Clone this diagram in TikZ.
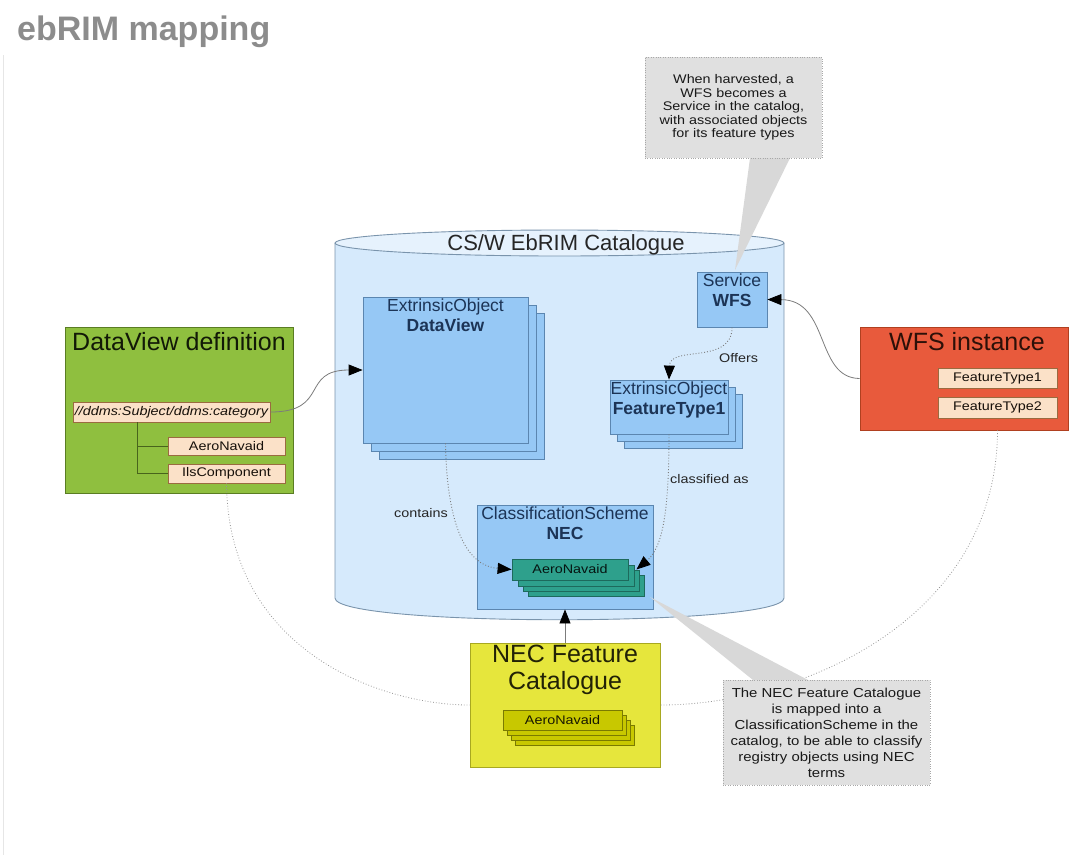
\documentclass[tikz,border=0pt]{standalone}
\usepackage{fontspec}
\setmainfont{Liberation Sans}
\newfontfamily\narrowfont[FakeStretch=1.15]{Liberation Sans}
\usetikzlibrary{arrows.meta}

\definecolor{titlegray}{HTML}{8C8C8C}
\definecolor{pagegray}{HTML}{E6E6E6}
\definecolor{catfill}{HTML}{D6EAFC}
\definecolor{catline}{HTML}{7A94AC}
\definecolor{boxfill}{HTML}{96C8F5}
\definecolor{boxline}{HTML}{5B86B0}
\definecolor{boxtext}{HTML}{1C3456}
\definecolor{tealfill}{HTML}{2EA08C}
\definecolor{tealline}{HTML}{1D6A5C}
\definecolor{greenfill}{HTML}{8FBF3F}
\definecolor{greenline}{HTML}{5A7D23}
\definecolor{redfill}{HTML}{E85A3C}
\definecolor{redline}{HTML}{B04020}
\definecolor{yellowfill}{HTML}{E6E63C}
\definecolor{yellowline}{HTML}{A8A820}
\definecolor{olivefill}{HTML}{C8C800}
\definecolor{oliveline}{HTML}{7A7A00}
\definecolor{peachfill}{HTML}{FBE1C8}
\definecolor{peachline}{HTML}{9A6B40}
\definecolor{notefill}{HTML}{E0E0E0}
\definecolor{noteline}{HTML}{A8A8A8}
\definecolor{wire}{HTML}{7C7C7C}

\begin{document}
\begin{tikzpicture}[x=1pt,y=-1pt]

    \tikzset{
      bluebox/.style={draw=boxline, fill=boxfill, line width=0.8pt, inner sep=0pt},
      bluetext/.style={anchor=north, align=center, inner sep=2.5pt, text=boxtext,
        font=\fontsize{17.5}{20}\selectfont},
      tealbox/.style={draw=tealline, fill=tealfill, line width=0.8pt, inner sep=0pt,
        minimum width=116pt, minimum height=21pt, text=black!80!tealline,
        font=\narrowfont\fontsize{12.5}{14}\selectfont},
      olivebox/.style={draw=oliveline, fill=olivefill, line width=0.8pt, inner sep=0pt,
        minimum width=119pt, minimum height=20pt, text=black!80!oliveline,
        font=\narrowfont\fontsize{12.5}{14}\selectfont},
      peachbox/.style={draw=peachline, fill=peachfill, line width=0.8pt, inner sep=0pt,
        text=black!85!peachline, font=\narrowfont\fontsize{12.5}{14}\selectfont},
      bigtitle/.style={anchor=center, inner sep=0pt, font=\fontsize{25}{27}\selectfont},
      note/.style={draw=noteline, dotted, fill=notefill, align=center, inner sep=0pt,
        text=black!90, font=\narrowfont\fontsize{12.5}{13.5}\selectfont},
      notetail/.style={fill=notefill!92!gray},
      conn/.style={draw=wire, line width=0.8pt, -{Triangle[length=14pt,width=11pt,color=black]}},
      dotconn/.style={draw=wire, line width=0.9pt, dotted, -{Triangle[length=14pt,width=11pt,color=black]}},
      assoc/.style={draw=wire!80, line width=0.8pt, dotted},
      edgelabel/.style={inner sep=0pt, text=black!85, font=\narrowfont\fontsize{12.5}{14}\selectfont},
    }
    \useasboundingbox (0,0) rectangle (1070,855);
	\draw[pagegray, line width=1pt] (3,55)--(3,855);
	\node[anchor=base west, inner sep=0pt, text=titlegray, font=\fontsize{34}{40}\selectfont\bfseries] (title) at (17,40) {ebRIM mapping};

	\fill[catfill] (335,243)--(335,598) .. controls (335,627) and (784,627) .. (784,598)--(784,243)--cycle;
	\draw[catline, line width=0.9pt] (335,243)--(335,598) .. controls (335,627) and (784,627) .. (784,598)--(784,243);
	\draw[catline, line width=0.9pt, fill=catfill!60!white] (559.5,243) ellipse [x radius=224.5, y radius=13];
	\node[inner sep=0pt, text=black!85, font=\fontsize{22}{24}\selectfont] (cattitle) at (566,245) {CS/W EbRIM Catalogue};

	\draw[bluebox] (379,313) rectangle (544,459);
	\draw[bluebox] (371,305) rectangle (536,451);
	\node[bluebox, minimum width=165pt, minimum height=146pt] (dv) at (445.5,370) {};
	\node[bluetext] (dvtxt) at (dv.north) {ExtrinsicObject\\\textbf{DataView}};

	\node[bluebox, minimum width=70pt, minimum height=55pt] (svc) at (732,299.5) {};
	\node[bluetext] (svctxt) at (svc.north) {Service\\\textbf{WFS}};

	\draw[bluebox] (624,394) rectangle (742,448);
	\draw[bluebox] (617,387) rectangle (735,441);
	\node[bluebox, minimum width=118pt, minimum height=54pt] (ft) at (669,407) {};
	\node[bluetext] (fttxt) at (ft.north) {ExtrinsicObject\\\textbf{FeatureType1}};

	\node[bluebox, minimum width=176pt, minimum height=104pt] (cs) at (565,557) {};
	\node[bluetext] (cstxt) at (cs.north) {ClassificationScheme\\\textbf{NEC}};
	\draw[tealbox] (528,575) rectangle (644,596);
	\draw[tealbox] (523,570) rectangle (639,591);
	\draw[tealbox] (518,565) rectangle (634,586);
	\node[tealbox] (teal) at (570,569.5) {AeroNavaid};

	\node[draw=greenline, fill=greenfill, line width=0.8pt, minimum width=228pt, minimum height=166pt] (dvdef) at (179,410) {};
	\node[bigtitle, text=black!80!greenline] (dvdeftxt) at (179,342) {DataView definition};
	\node[peachbox, minimum width=197pt, minimum height=20pt, font=\narrowfont\fontsize{12.5}{14}\selectfont\itshape] (path) at (171.5,412) {//ddms:Subject/ddms:category};
	\node[peachbox, minimum width=117pt, minimum height=18pt] (aero) at (226.5,446) {AeroNavaid};
	\node[peachbox, minimum width=117pt, minimum height=19pt] (ils) at (226.5,473.5) {IlsComponent};
	\coordinate (fork) at (137,422);
	\draw[greenline!80!black, line width=1pt] (fork) |- (ils.west);
	\draw[greenline!80!black, line width=1pt] (fork |- aero.west) -- (aero.west);

	\node[draw=redline, fill=redfill, line width=0.8pt, minimum width=208pt, minimum height=103pt] (wfsi) at (964,378.5) {};
	\node[bigtitle, text=black!75!redline] (wfsitxt) at (967,342) {WFS instance};
	\node[peachbox, minimum width=119pt, minimum height=20pt] (ftone) at (997.5,378) {FeatureType1};
	\node[peachbox, minimum width=119pt, minimum height=21pt] (fttwo) at (997.5,407.5) {FeatureType2};

	\node[draw=yellowline, fill=yellowfill, line width=0.8pt, minimum width=190pt, minimum height=124pt] (nfc) at (565,705) {};
	\node[bigtitle, anchor=north, align=center, inner sep=2pt, text=black!80!yellowline] (nfctxt) at (nfc.north) {NEC Feature\\Catalogue};
	\draw[olivebox] (515,725) rectangle (634,745);
	\draw[olivebox] (511,720) rectangle (630,740);
	\draw[olivebox] (507,715) rectangle (626,735);
	\node[olivebox] (olive) at (562.5,720) {AeroNavaid};

	\draw[conn] (path.east) .. controls (330,412) and (300,370) .. (dv.west);
	\draw[conn] (wfsi.west) .. controls (815,378) and (830,300) .. (svc.east);
	\draw[conn] (nfc.north) -- (cs.south);
	\draw[dotconn] (svc.south) .. controls (732,365) and (670,345) .. (ft.north);
	\draw[dotconn] (ft.south) .. controls (669,515) and (662,548) .. ([xshift=8pt]teal.east);
	\draw[dotconn] (dv.south) .. controls (447,530) and (468,566) .. (teal.west);
	\node[edgelabel, anchor=west] (offers) at (719,358) {Offers};
	\node[edgelabel, anchor=west] (classified) at (670,479) {classified as};
	\node[edgelabel] (contains) at (421,513) {contains};

	\draw[assoc] (ils.south) .. controls (228,650) and (380,705) .. (nfc.west);
	\draw[assoc] (fttwo |- wfsi.south) .. controls (997,620) and (800,705) .. (nfc.east);

	\fill[notetail] (750,158)--(735,270)--(790,158)--cycle;
	\node[note, minimum width=177pt, minimum height=101pt] (harvest) at (733.5,107.5) {When harvested, a\\WFS becomes a\\Service in the catalog,\\with associated objects\\for its feature types};
	\fill[notetail] (753,680)--(650,597)--(808,680)--cycle;
	\node[note, minimum width=207pt, minimum height=105pt, font=\narrowfont\fontsize{13}{16}\selectfont] (mapped) at (826.5,732.5) {The NEC Feature Catalogue\\is mapped into a\\ClassificationScheme in the\\catalog, to be able to classify\\registry objects using NEC\\terms};

\end{tikzpicture}
\end{document}
